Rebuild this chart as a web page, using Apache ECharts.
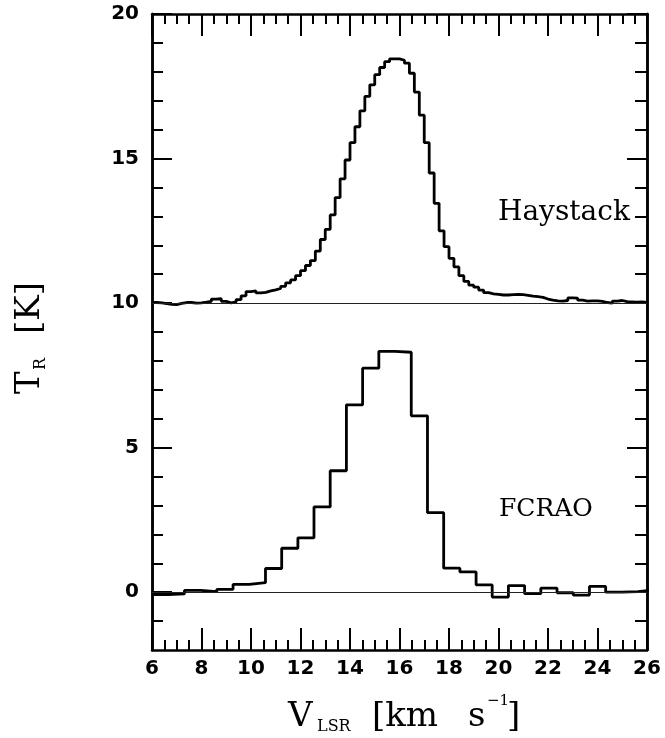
<!DOCTYPE html>
<html><head><meta charset="utf-8">
<script src="https://cdn.jsdelivr.net/npm/echarts@6/dist/echarts.min.js"></script>
<style>html,body{margin:0;padding:0;background:#fff}#c{width:665px;height:738px}</style>
</head><body><div id="c"></div>
<script>
// ---- axis setup ----
const xMin = 6, xMax = 26, xTickStep = 2;
const yMin = -2, yMax = 20;
const yMajorTicks = [0, 5, 10, 15, 20];
const yMinorTicks = [-1, 1, 2, 3, 4, 6, 7, 8, 9, 11, 12, 13, 14, 16, 17, 18, 19];
const baselines = [0, 10];

// ---- Haystack spectrum (channel centres, km/s) and T_R (K), plotted with +10 K offset ----
const haystackOffset = 10;
const haystackV = [6.1,6.3,6.5,6.7,6.9,7.1,7.3,7.5,7.7,7.9,8.1,8.3,8.5,8.7,8.9,9.1,9.3,9.5,9.7,9.9,
  10.1,10.3,10.5,10.7,10.9,11.1,11.3,11.5,11.7,11.9,12.1,12.3,12.5,12.7,12.9,13.1,13.3,13.5,13.7,13.9,
  14.1,14.3,14.5,14.7,14.9,15.1,15.3,15.5,15.7,15.9,16.1,16.3,16.5,16.7,16.9,17.1,17.3,17.5,17.7,17.9,
  18.1,18.3,18.5,18.7,18.9,19.1,19.3,19.5,19.7,19.9,20.1,20.3,20.5,20.7,20.9,21.1,21.3,21.5,21.7,21.9,
  22.1,22.3,22.5,22.7,22.9,23.1,23.3,23.5,23.7,23.9,24.1,24.3,24.5,24.7,24.9,25.1,25.3,25.5,25.7,25.9];
const haystackT = [0.02,0.01,-0.02,-0.04,-0.05,-0.01,0.02,0.02,0.00,0.01,0.03,0.06,0.14,0.15,0.06,0.01,0.04,0.12,0.25,0.40,
  0.42,0.35,0.37,0.42,0.46,0.51,0.58,0.70,0.80,0.95,1.12,1.30,1.47,1.80,2.20,2.55,3.05,3.65,4.30,4.95,
  5.55,6.10,6.65,7.15,7.55,7.90,8.15,8.35,8.45,8.45,8.40,8.30,7.95,7.30,6.50,5.55,4.50,3.45,2.50,1.95,
  1.55,1.25,0.95,0.75,0.62,0.55,0.45,0.36,0.32,0.30,0.28,0.28,0.29,0.30,0.29,0.27,0.24,0.22,0.20,0.14,
  0.10,0.08,0.07,0.09,0.18,0.17,0.10,0.07,0.08,0.08,0.06,0.02,0.00,0.07,0.09,0.05,0.04,0.03,0.04,0.02];

// ---- FCRAO spectrum (channel centres, km/s) and T_R (K) ----
const fcraoV = [6.33,6.98,7.64,8.29,8.95,9.60,10.26,10.91,11.57,12.22,12.87,13.53,14.18,14.84,15.49,16.15,
  16.80,17.46,18.11,18.77,19.42,20.07,20.73,21.38,22.04,22.69,23.35,24.00,24.66,25.31,25.96];
const fcraoT = [-0.08,-0.06,0.06,0.02,0.10,0.27,0.33,0.82,1.52,1.88,2.95,4.20,6.48,7.75,8.33,8.30,
  6.10,2.75,0.83,0.70,0.25,-0.17,0.23,-0.05,0.14,-0.02,-0.10,0.20,0.00,0.02,0.08];

// build histogram steps: [left edge, value] per channel + final right edge
function toSteps(v, t, offset) {
  const n = v.length, pts = [];
  for (let k = 0; k < n; k++) {
    const left = k === 0 ? v[0] - (v[1] - v[0]) / 2 : (v[k - 1] + v[k]) / 2;
    pts.push([left, t[k] + offset]);
  }
  pts.push([v[n - 1] + (v[n - 1] - v[n - 2]) / 2, t[n - 1] + offset]);
  return pts;
}

const black = '#000';
const tickFont = { fontFamily: 'DejaVu Sans', fontWeight: 'bold', fontSize: 20, color: black };
const xCommon = {
  type: 'value', min: xMin, max: xMax, interval: xTickStep, splitLine: { show: false },
  axisLine: { show: true, onZero: false, lineStyle: { color: black, width: 2.5 } },
  axisTick: { show: true, inside: true, length: 22, lineStyle: { color: black, width: 2 } },
  minorTick: { show: true, splitNumber: 4, length: 10, lineStyle: { color: black, width: 2 } },
  minorSplitLine: { show: false }
};
const yCommon = {
  type: 'value', min: yMin, max: yMax, splitLine: { show: false },
  axisLine: { show: true, onZero: false, lineStyle: { color: black, width: 2.5 } }
};
function yAx(pos, ticks, len, labels) {
  return Object.assign({}, yCommon, {
    position: pos,
    axisTick: { show: true, inside: true, length: len, customValues: ticks, lineStyle: { color: black, width: 2 } },
    axisLabel: labels ? Object.assign({ show: true, margin: 13, customValues: ticks }, tickFont) : { show: false }
  });
}

const serif = 'DejaVu Serif';
function txt(x, y, s, size, align) {
  return { type: 'text', x: x, y: y, silent: true,
    style: { text: s, font: size + 'px "' + serif + '"', fill: black, textAlign: align || 'left', textVerticalAlign: 'middle' } };
}

const chart = echarts.init(document.getElementById('c'), null, { renderer: 'canvas' });
chart.setOption({
  animation: false,
  backgroundColor: '#fff',
  grid: { left: 152, right: 18, top: 14, bottom: 88, containLabel: false, outerBoundsMode: 'none' },
  xAxis: [
    Object.assign({}, xCommon, { position: 'bottom', axisLabel: Object.assign({ show: true, margin: 9 }, tickFont) }),
    Object.assign({}, xCommon, { position: 'top', axisLabel: { show: false } })
  ],
  yAxis: [
    yAx('left', yMajorTicks, 20, true),
    yAx('left', yMinorTicks, 11, false),
    yAx('right', yMajorTicks, 20, false),
    yAx('right', yMinorTicks, 12, false)
  ],
  series: [
    { name: 'Haystack', type: 'line', step: 'end', symbol: 'none', clip: true,
      xAxisIndex: 0, yAxisIndex: 0,
      lineStyle: { color: black, width: 2.8 },
      data: toSteps(haystackV, haystackT, haystackOffset),
      markLine: { silent: true, symbol: 'none', label: { show: false },
        lineStyle: { color: '#222', width: 1, type: 'solid' },
        data: baselines.map(b => ({ yAxis: b })) } },
    { name: 'FCRAO', type: 'line', step: 'end', symbol: 'none', clip: true,
      xAxisIndex: 0, yAxisIndex: 0,
      lineStyle: { color: black, width: 2.8 },
      data: toSteps(fcraoV, fcraoT, 0) }
  ],
  graphic: [
    txt(498, 213, 'Haystack', 28),
    txt(499, 509, 'FCRAO', 25),
    // x-axis title
    txt(288, 717, 'V', 34),
    txt(317, 727, 'LSR', 16),
    txt(372, 717, '[km', 34),
    txt(468, 717, 's', 34),
    txt(487, 701, '−1', 15),
    txt(507, 717, ']', 34),
    // y-axis title (rotated)
    { type: 'group', x: 40, y: 394, rotation: Math.PI / 2, silent: true,
      children: [ txt(0, -10, 'T', 34), txt(24, 1, 'R', 16), txt(60, -10, '[K]', 34) ] }
  ]
});
</script></body></html>
